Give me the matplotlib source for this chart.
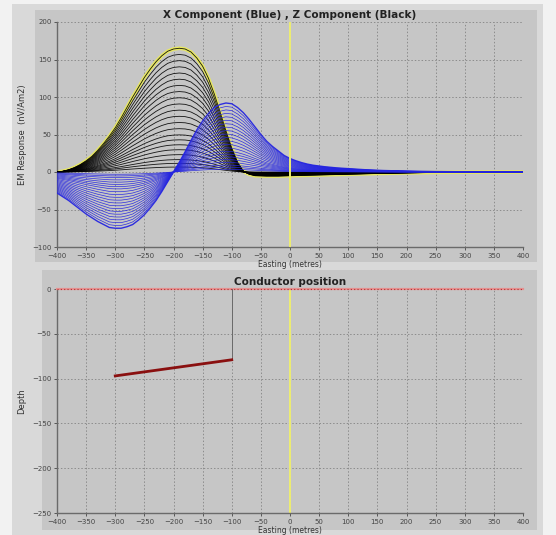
import matplotlib
matplotlib.use("Agg")
import matplotlib.pyplot as plt
from matplotlib.patches import Rectangle
import numpy as np

# ---- data ----
# Outer (first-channel) Z component response (black)
z_x = [-400, -390, -380, -370, -360, -350, -340, -330, -320, -310, -300, -290, -280,
       -270, -260, -250, -240, -230, -220, -210, -200, -190, -180, -170, -160, -150,
       -140, -130, -120, -110, -100, -90, -80, -70, -60, -40, -20, 0, 25, 50, 75, 100,
       150, 200, 250, 300, 350, 400]
z_y = [0, 1, 3, 6, 10, 15, 21, 29, 38, 48, 59, 72, 86,
       100, 113, 126, 137, 147, 155, 161, 164, 165, 164, 160, 152, 141,
       125, 104, 80, 55, 32, 13, 1, -3, -5, -5.5, -5.5, -5, -4.5, -4, -3.5, -3,
       -2, -1.2, -0.6, -0.3, -0.1, 0]

# Outer (first-channel) X component response (blue)
x_x = [-400, -390, -380, -370, -360, -350, -340, -330, -320, -310, -300, -290, -280,
       -270, -260, -250, -240, -230, -220, -210, -200, -190, -180, -170, -160, -150,
       -140, -130, -120, -110, -100, -90, -80, -70, -60, -50, -40, -30, -20, -10, 0,
       10, 20, 30, 40, 60, 80, 100, 130, 160, 200, 250, 300, 400]
x_y = [-28, -33, -38, -44, -50, -56, -61, -66, -70, -74, -75, -75, -73,
       -70, -64, -57, -48, -38, -26, -13, 0, 13, 27, 42, 56, 68,
       78, 86, 90, 92, 91, 86, 79, 70, 60, 50, 41, 34, 28, 22, 18,
       15, 12.5, 10.5, 9, 7, 5.5, 4.5, 3, 2, 1.2, 0.6, 0.3, 0]

# relative amplitude of each time channel
channel_scale = [1.0, 0.95, 0.90, 0.85, 0.80, 0.75, 0.70, 0.65, 0.60, 0.55, 0.50,
                 0.45, 0.40, 0.35, 0.30, 0.26, 0.22, 0.18, 0.14, 0.10, 0.07, 0.04]

# conductor (plate) position
cond_x = [-300, -100]
cond_depth = [-97, -79]
surface_x = [-400, 400]
surface_y = [0, 0]

xticks = list(range(-400, 401, 50))
top_yticks = [-100, -50, 0, 50, 100, 150, 200]
bot_yticks = [0, -50, -100, -150, -200, -250]

# ---- figure ----
W, H = 556, 535
fig = plt.figure(figsize=(W / 100, H / 100), dpi=100)
fig.patch.set_facecolor('#f2f2f2')

def frect(x0, y0, x1, y1, color):
    fig.patches.append(Rectangle((x0 / W, 1 - y1 / H), (x1 - x0) / W, (y1 - y0) / H,
                                 transform=fig.transFigure, facecolor=color,
                                 edgecolor='none', zorder=-10))

frect(12, 4, 543, 535, '#d9d9d9')
frect(35, 10, 537, 262, '#c6c6c6')
frect(42, 270, 537, 530, '#c6c6c6')

panel_bg = '#c6c6c6'
grid_kw = dict(color='#8c8c8c', linestyle=(0, (1.5, 2)), linewidth=0.7)

def style(ax):
    ax.set_facecolor(panel_bg)
    for s in ['top', 'right']:
        ax.spines[s].set_visible(False)
    for s in ['left', 'bottom']:
        ax.spines[s].set_color('#6a6a6a')
        ax.spines[s].set_linewidth(1.0)
    ax.tick_params(labelsize=5, colors='#444444', length=2, width=0.6, pad=2)
    ax.grid(True, **grid_kw)
    ax.set_axisbelow(True)
    ax.set_xlim(-400, 400)
    ax.set_xticks(xticks)

# top axes
ax1 = fig.add_axes([57 / W, 1 - 247 / H, (523 - 57) / W, (247 - 22) / H])
style(ax1)
ax1.set_ylim(-100, 200)
ax1.set_yticks(top_yticks)

zx = np.array(z_x, float)
zy = np.array(z_y, float)
xx = np.array(x_x, float)
xy = np.array(x_y, float)

ax1.plot(zx, zy, color='#e8e860', lw=2.6, zorder=2)
for s in channel_scale:
    ax1.plot(zx, zy * s, color='black', lw=0.6, alpha=0.9, zorder=3)
for i, s in enumerate(channel_scale):
    ax1.plot(xx, xy * s, color='#2525e0', lw=1.0 if i == 0 else 0.5,
             alpha=0.95, zorder=4)
ax1.axvline(0, color='#eeee70', lw=1.4, zorder=5)
ax1.set_title('X Component (Blue) , Z Component (Black)', fontsize=7.5,
              fontweight='bold', color='#222222', pad=3)
ax1.set_ylabel('EM Response  (nV/Am2)', fontsize=6, color='#333333', labelpad=4)
ax1.set_xlabel('Easting (metres)', fontsize=5.5, color='#333333', labelpad=1)

# bottom axes
ax2 = fig.add_axes([57 / W, 1 - 513 / H, (523 - 57) / W, (513 - 289) / H])
style(ax2)
ax2.set_ylim(-250, 0)
ax2.set_yticks(bot_yticks)
ax2.plot(surface_x, surface_y, color='#e59090', lw=1.6, zorder=3, clip_on=False)
ax2.plot(surface_x, surface_y, color='#b03030', lw=0.8, linestyle=(0, (1, 2)),
         zorder=4, clip_on=False)
ax2.plot([cond_x[1], cond_x[1]], [0, cond_depth[1]], color='#6a6a6a', lw=0.7, zorder=3)
ax2.plot(cond_x, cond_depth, color='#8a1010', lw=2.0, zorder=5)
ax2.axvline(0, color='#eeee70', lw=1.4, zorder=2)
ax2.set_title('Conductor position', fontsize=7.5, fontweight='bold',
              color='#222222', pad=3)
ax2.set_ylabel('Depth', fontsize=6, color='#333333', labelpad=4)
ax2.set_xlabel('Easting (metres)', fontsize=5.5, color='#333333', labelpad=1)

fig.savefig('out.png', dpi=100, facecolor=fig.get_facecolor())
